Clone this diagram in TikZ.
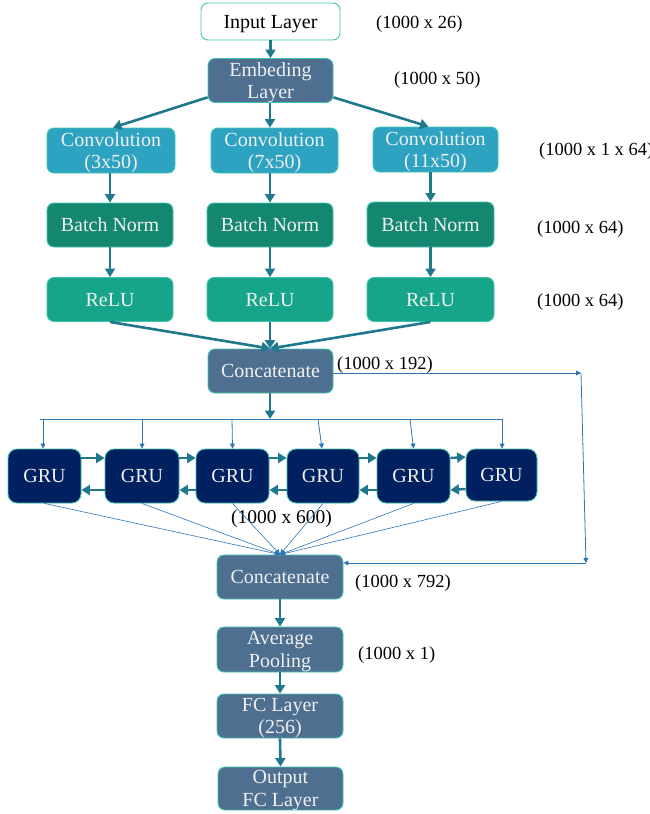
\documentclass[tikz,border=0pt]{standalone}
\usepackage{fontspec}
\setmainfont{Liberation Serif}
\usetikzlibrary{arrows.meta,calc}
\definecolor{steel}{RGB}{79,111,144}
\definecolor{convc}{RGB}{46,163,193}
\definecolor{bnc}{RGB}{19,135,112}
\definecolor{reluc}{RGB}{23,165,137}
\definecolor{gruc}{RGB}{0,32,96}
\definecolor{edgec}{RGB}{64,196,178}
\definecolor{thick}{RGB}{31,120,140}
\definecolor{thin}{RGB}{46,117,182}
\definecolor{txtc}{RGB}{240,240,240}
\tikzset{
  box/.style={draw=edgec, line width=0.9pt, rounded corners=7pt, align=center, inner sep=0pt,
    font=\fontsize{20}{22.5}\selectfont, text=txtc, text depth=0pt},
  lbl/.style={anchor=west, inner sep=0pt, font=\fontsize{18.5}{20}\selectfont, text depth=0pt},
  big/.style={draw=thick, line width=2.6pt, -{Triangle[width=10pt,length=8.5pt]}},
  sm/.style={draw=thin, line width=0.8pt, -{Triangle[width=5pt,length=5pt]}},
  smn/.style={draw=thin, line width=0.8pt},
}
\begin{document}
\begin{tikzpicture}[x=1pt,y=-1pt]
\useasboundingbox (0,0) rectangle (650,814);
% nodes
\node[box, fill=white, text=black, minimum width=139, minimum height=37] (inp) at (270.5,21.5) {Input Layer};
\node[box, fill=steel, minimum width=125, minimum height=44] (emb) at (270.5,80.5) {Embeding\\Layer};
\node[box, fill=convc, minimum width=128, minimum height=45] (c1) at (111,150.5) {Convolution\\(3x50)};
\node[box, fill=convc, minimum width=127, minimum height=45] (c2) at (274.5,150.5) {Convolution\\(7x50)};
\node[box, fill=convc, minimum width=125, minimum height=45] (c3) at (435.5,149.5) {Convolution\\(11x50)};
\node[box, fill=bnc, minimum width=126, minimum height=44] (b1) at (110,225) {Batch Norm};
\node[box, fill=bnc, minimum width=126, minimum height=44] (b2) at (270,225) {Batch Norm};
\node[box, fill=bnc, minimum width=127, minimum height=45] (b3) at (430.5,224.5) {Batch Norm};
\node[box, fill=reluc, minimum width=126, minimum height=44] (r1) at (110,299.5) {ReLU};
\node[box, fill=reluc, minimum width=126, minimum height=44] (r2) at (270,299.5) {ReLU};
\node[box, fill=reluc, minimum width=127, minimum height=44] (r3) at (430.5,299.5) {ReLU};
\node[box, fill=steel, minimum width=125, minimum height=44] (cat1) at (270.5,371) {Concatenate};
\node[box, fill=gruc, minimum width=73, minimum height=54, rounded corners=9pt] (g1) at (44.5,476) {GRU};
\node[box, fill=gruc, minimum width=74, minimum height=54, rounded corners=9pt] (g2) at (142,476) {GRU};
\node[box, fill=gruc, minimum width=73, minimum height=54, rounded corners=9pt] (g3) at (232.5,476) {GRU};
\node[box, fill=gruc, minimum width=72, minimum height=54, rounded corners=9pt] (g4) at (323,476) {GRU};
\node[box, fill=gruc, minimum width=73, minimum height=54, rounded corners=9pt] (g5) at (413.5,476) {GRU};
\node[box, fill=gruc, minimum width=71, minimum height=52, rounded corners=9pt] (g6) at (501.5,475) {GRU};
\node[box, fill=steel, minimum width=126, minimum height=44] (cat2) at (280,577) {Concatenate};
\node[box, fill=steel, minimum width=126, minimum height=45] (avg) at (280,649.5) {Average\\Pooling};
\node[box, fill=steel, minimum width=126, minimum height=44] (fc) at (280,716) {FC Layer\\(256)};
\node[box, fill=steel, minimum width=125, minimum height=43] (out) at (280.5,788.5) {Output\\FC Layer};
% labels
\node[lbl] (l1) at (376,22) {(1000 x 26)};
\node[lbl] (l2) at (394,78) {(1000 x 50)};
\node[lbl] (l3) at (539,149) {(1000 x 1 x 64)};
\node[lbl] (l4) at (537,227) {(1000 x 64)};
\node[lbl] (l5) at (537,300) {(1000 x 64)};
\node[lbl] (l6) at (337,363) {(1000 x 192)};
\node[lbl, font=\fontsize{19.5}{20}\selectfont] (l7) at (231,517) {(1000 x 600)};
\node[lbl] (l8) at (355,581) {(1000 x 792)};
\node[lbl] (l9) at (358,653) {(1000 x 1)};
% thick connectors
\draw[big] (inp.south) -- (emb.north);
\draw[big] (emb.195) -- ($(c1.north)+(2,0)$);
\draw[big] (emb.south -| b2.north) -- (c2.north -| b2.north);
\draw[big] (emb.-15) -- ($(c3.north)+(-7,0)$);
\draw[big] (c1.south -| b1.north) -- (b1.north);
\draw[big] (c2.south -| b2.north) -- (b2.north);
\draw[big] (c3.south -| b3.north) -- (b3.north);
\draw[big] (b1.south) -- (r1.north);
\draw[big] (b2.south) -- (r2.north);
\draw[big] (b3.south -| r3.north) -- (r3.north);
\draw[big] (r1.south) -- ($(cat1.north)+(-0.5,0)$);
\draw[big] (r2.south) -- ($(cat1.north)+(-0.5,0)$);
\draw[big] (r3.south) -- ($(cat1.north)+(-0.5,0)$);
\coordinate (busL) at (40,419);
\coordinate (busR) at (502,419);
\draw[big] ($(cat1.south)+(-0.5,0)$) -- (270,419);
% bus
\draw[smn] (busL) -- (busR);
\draw[sm] (43,419) -- (g1.north -| 43,0);
\draw[sm] (142,419) -- (g2.north);
\draw[sm] (232,419) -- (g3.north);
\draw[sm] (318,419) -- ($(g4.north)+(-1,0)$);
\draw[sm] (410,419) -- ($(g5.north)+(0,0)$);
\draw[sm] (busR) -- (g6.north -| busR);
% GRU links
\foreach \a/\b in {g1/g2,g2/g3,g3/g4,g4/g5,g5/g6}{
  \draw[big, line width=2.4pt] ($(\a.east)+(0,-18)$) -- ($(\b.west)+(0,-18)$);
  \draw[big, line width=2.4pt] ($(\b.west)+(0,14)$) -- ($(\a.east)+(0,14)$);
}
% GRU to concat2
\foreach \g in {g1,g2,g3,g4,g5,g6}{
  \draw[sm, line width=0.6pt] (\g.south) -- (cat2.north);
}
% skip
\coordinate (sA) at (581,373);
\coordinate (sB) at (586,563);
\draw[sm] (cat1.east |- sA) -- (sA);
\draw[sm] (sA) -- (sB);
\draw[sm] (sB) -- (cat2.east |- sB);
% bottom chain
\draw[big] (cat2.south) -- (avg.north);
\draw[big] (avg.south) -- (fc.north);
\draw[big] (fc.south) -- (out.north);
\end{tikzpicture}
\end{document}
